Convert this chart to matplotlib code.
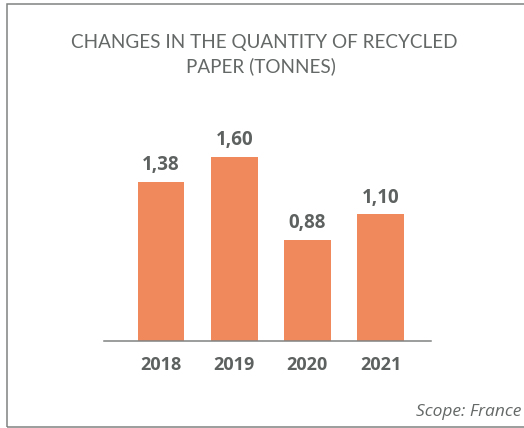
import matplotlib
matplotlib.use("Agg")
import matplotlib.pyplot as plt
from matplotlib.patches import Rectangle

years = ["2018", "2019", "2020", "2021"]
tonnes = [1.38, 1.60, 0.88, 1.10]
value_labels = ["1,38", "1,60", "0,88", "1,10"]

bar_color = "#F08A5D"
text_color = "#5d6160"
title_color = "#646867"
line_color = "#808282"

W, H = 524, 428
fig = plt.figure(figsize=(W / 100, H / 100), dpi=100)

# frame around the panel (right edge runs off the picture)
fig.patches.append(Rectangle((7 / W, 1 - 427 / H), 530 / W, 423 / H,
                             transform=fig.transFigure, fill=False,
                             edgecolor=line_color, linewidth=1.1))

ax = fig.add_axes([104 / W, 87 / H, 327 / W, 200 / H])
x = range(len(years))
ax.bar(x, tonnes, width=0.64, color=bar_color)
ax.set_xlim(-0.78, 3.69)
ax.set_ylim(0, 200 / 115)

for i, v in enumerate(tonnes):
    ax.annotate(value_labels[i], (i, v), xytext=(0, 8.5), textcoords="offset points",
                ha="center", va="baseline", fontsize=13.5, fontweight="bold",
                color=text_color, family="Open Sans")

ax.set_xticks(list(x))
ax.set_xticklabels(years, fontsize=13, fontweight="bold", color=text_color, family="Open Sans")
for lbl in ax.get_xticklabels():
    lbl.set_va("baseline")
ax.tick_params(axis="x", length=0, pad=21)
ax.set_yticks([])
for s in ["left", "right", "top"]:
    ax.spines[s].set_visible(False)
ax.spines["bottom"].set_color(line_color)
ax.spines["bottom"].set_linewidth(1.1)

fig.text(264 / W, 1 - 48 / H, "CHANGES IN THE QUANTITY OF RECYCLED", ha="center", va="baseline",
         fontsize=13.6, color=title_color, family="Lato")
fig.text(261 / W, 1 - 72 / H, "PAPER (TONNES)", ha="center", va="baseline",
         fontsize=13.6, color=title_color, family="Lato")

fig.text(521 / W, 1 - 416 / H, "Scope: France", ha="right", va="baseline",
         fontsize=12.5, style="italic", color=title_color, family="Open Sans")

fig.savefig("out.png", dpi=100)
